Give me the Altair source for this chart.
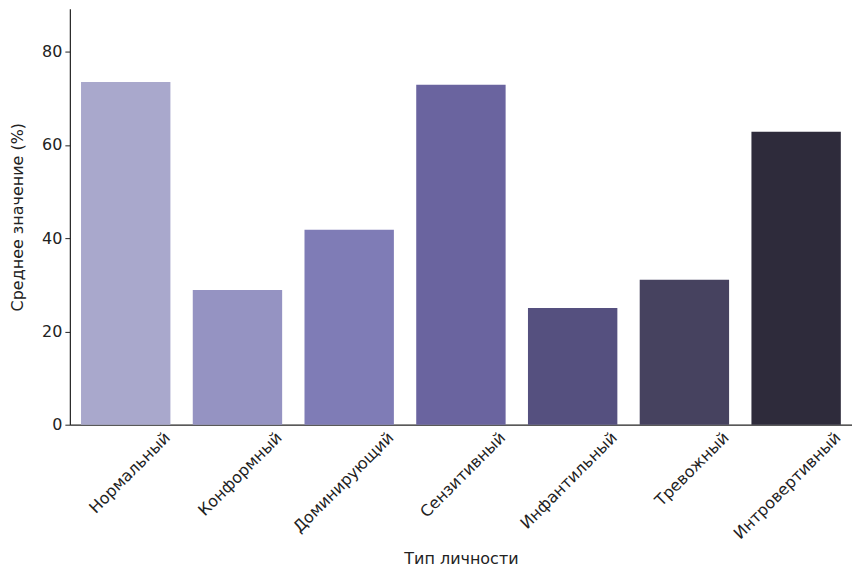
import altair as alt
import pandas as pd

categories = ["Нормальный", "Конформный", "Доминирующий", "Сензитивный",
              "Инфантильный", "Тревожный", "Интровертивный"]
values = [73.5, 28.9, 41.8, 72.9, 25.0, 31.1, 62.8]
colors = ["#a9a8cc", "#9593c2", "#7f7cb6", "#6a649f", "#55507f", "#46425f", "#2e2b3b"]
y_ticks = [0, 20, 40, 60, 80]

df = pd.DataFrame({"type": categories, "value": values})

chart = alt.Chart(df).mark_bar().encode(
    x=alt.X("type:N", sort=categories, title="Тип личности",
            scale=alt.Scale(paddingInner=0.2, paddingOuter=0.1),
            axis=alt.Axis(labelAngle=-45, labelAlign="right", labelBaseline="middle",
                          labelOffset=42, labelPadding=10, ticks=False,
                          titlePadding=9)),
    y=alt.Y("value:Q", title="Среднее значение (%)",
            scale=alt.Scale(domain=[0, 89.2], nice=False),
            axis=alt.Axis(values=y_ticks, grid=False, tickSize=5, labelPadding=3,
                          titlePadding=16)),
    color=alt.Color("type:N", scale=alt.Scale(domain=categories, range=colors), legend=None),
).properties(
    width=784, height=417,
    autosize=alt.AutoSizeParams(type="none"),
    padding={"left": 62, "top": 0, "right": 0, "bottom": 150},
).configure_view(stroke=None).configure_axis(
    labelFont="DejaVu Sans", titleFont="DejaVu Sans",
    labelFontSize=16, titleFontSize=16, titleFontWeight="normal",
    labelColor="#222", titleColor="#222",
    domainColor="#222", tickColor="#222", domainWidth=1.2,
)

chart.save("out.html", embed_options={"renderer": "svg", "actions": False})
